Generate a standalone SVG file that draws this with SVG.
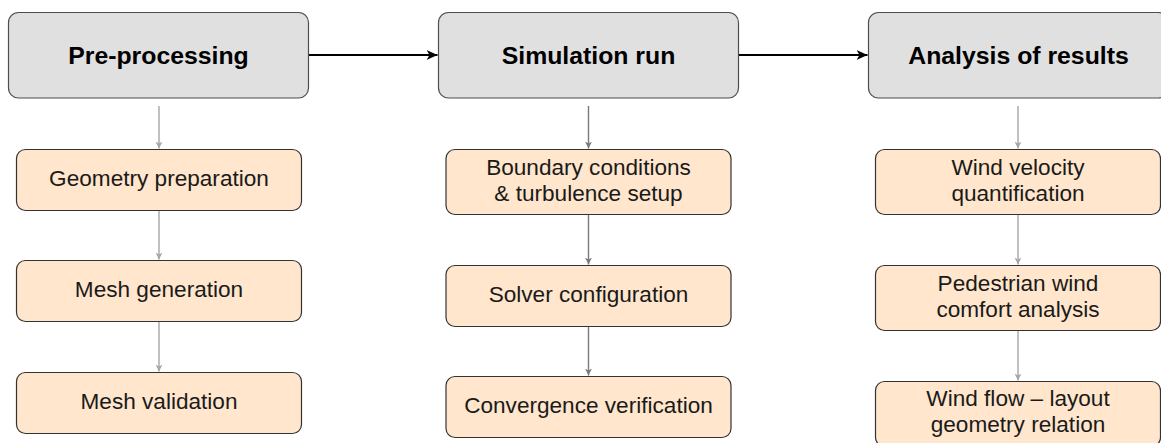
<svg xmlns="http://www.w3.org/2000/svg" width="1161" height="443" viewBox="0 0 1161 443">
<defs>
<style>
.hdr{fill:#e0e0e0;stroke:#4d4d4d;stroke-width:1.2}
.sub{fill:#ffe6cc;stroke:#333333;stroke-width:1.2}
.ht{font-family:"Liberation Sans",Arial,sans-serif;font-weight:bold;font-size:24.8px;fill:#000;text-anchor:middle;dominant-baseline:central}
.st{font-family:"Liberation Sans",Arial,sans-serif;font-size:22.6px;fill:#1a1a1a;text-anchor:middle;dominant-baseline:central}
.main{stroke:#000;stroke-width:2;fill:none}
.lg{stroke:#a6a6a6;stroke-width:1.4;fill:none}
.dg{stroke:#7a7a7a;stroke-width:1.4;fill:none}
</style>
<marker id="big" markerWidth="12" markerHeight="10" refX="11" refY="5" orient="auto" markerUnits="userSpaceOnUse">
<path d="M0,0 L11,5 L0,10 L3,5 Z" fill="#000"/>
</marker>
<marker id="smL" markerWidth="8" markerHeight="8" refX="7" refY="4" orient="auto" markerUnits="userSpaceOnUse">
<path d="M0,0.5 L7,4 L0,7.5 L2,4 Z" fill="#a6a6a6"/>
</marker>
<marker id="smD" markerWidth="8" markerHeight="8" refX="7" refY="4" orient="auto" markerUnits="userSpaceOnUse">
<path d="M0,0.5 L7,4 L0,7.5 L2,4 Z" fill="#7a7a7a"/>
</marker>
</defs>
<rect width="1161" height="443" fill="#ffffff"/>
<g id="connectors">
<line class="main" x1="308.5" y1="55" x2="437.5" y2="55" marker-end="url(#big)"/>
<line class="main" x1="738.5" y1="55" x2="867.5" y2="55" marker-end="url(#big)"/>
<line class="lg" x1="159" y1="106" x2="159" y2="148.5" marker-end="url(#smL)"/>
<line class="lg" x1="159" y1="210.5" x2="159" y2="259.5" marker-end="url(#smL)"/>
<line class="lg" x1="159" y1="321.5" x2="159" y2="371.5" marker-end="url(#smL)"/>
<line class="dg" x1="588.5" y1="106" x2="588.5" y2="148.5" marker-end="url(#smD)"/>
<line class="dg" x1="588.5" y1="214.5" x2="588.5" y2="264.5" marker-end="url(#smD)"/>
<line class="dg" x1="588.5" y1="326.5" x2="588.5" y2="375.5" marker-end="url(#smD)"/>
<line class="lg" x1="1018" y1="106" x2="1018" y2="148.5" marker-end="url(#smL)"/>
<line class="lg" x1="1018" y1="214.5" x2="1018" y2="264.5" marker-end="url(#smL)"/>
<line class="lg" x1="1018" y1="330.5" x2="1018" y2="380.5" marker-end="url(#smL)"/>
</g>
<g id="pre">
<rect class="hdr" x="8.5" y="12.5" width="300" height="85.5" rx="10"/>
<text class="ht" x="158.5" y="55">Pre-processing</text>
</g>
<g id="sim">
<rect class="hdr" x="438.5" y="12.5" width="300" height="85.5" rx="10"/>
<text class="ht" x="588.5" y="55">Simulation run</text>
</g>
<g id="ana">
<rect class="hdr" x="868.5" y="12.5" width="300" height="85.5" rx="10"/>
<text class="ht" x="1018.5" y="55">Analysis of results</text>
</g>
<g id="geom">
<rect class="sub" x="16.5" y="149.5" width="285" height="61" rx="9"/>
<text class="st" x="159" y="178.5">Geometry preparation</text>
</g>
<g id="meshgen">
<rect class="sub" x="16.5" y="260.5" width="285" height="61" rx="9"/>
<text class="st" x="159" y="289.5">Mesh generation</text>
</g>
<g id="meshval">
<rect class="sub" x="16.5" y="372.5" width="285" height="61" rx="9"/>
<text class="st" x="159" y="401.5">Mesh validation</text>
</g>
<g id="boundary">
<rect class="sub" x="446" y="149.5" width="285" height="65" rx="9"/>
<text class="st" x="588.5" y="167">Boundary conditions</text>
<text class="st" x="588.5" y="193.5">&amp; turbulence setup</text>
</g>
<g id="solver">
<rect class="sub" x="446" y="265.5" width="285" height="61" rx="9"/>
<text class="st" x="588.5" y="294.5">Solver configuration</text>
</g>
<g id="conv">
<rect class="sub" x="446" y="376.5" width="285" height="61" rx="9"/>
<text class="st" x="588.5" y="405.5">Convergence verification</text>
</g>
<g id="windvel">
<rect class="sub" x="875.5" y="149.5" width="285" height="65" rx="9"/>
<text class="st" x="1018" y="167">Wind velocity</text>
<text class="st" x="1018" y="193.5">quantification</text>
</g>
<g id="pedestrian">
<rect class="sub" x="875.5" y="265.5" width="285" height="65" rx="9"/>
<text class="st" x="1018" y="283">Pedestrian wind</text>
<text class="st" x="1018" y="309.5">comfort analysis</text>
</g>
<g id="windflow">
<rect class="sub" x="875.5" y="381.5" width="285" height="65" rx="9"/>
<text class="st" x="1018" y="398">Wind flow – layout</text>
<text class="st" x="1018" y="424.5">geometry relation</text>
</g>
</svg>
